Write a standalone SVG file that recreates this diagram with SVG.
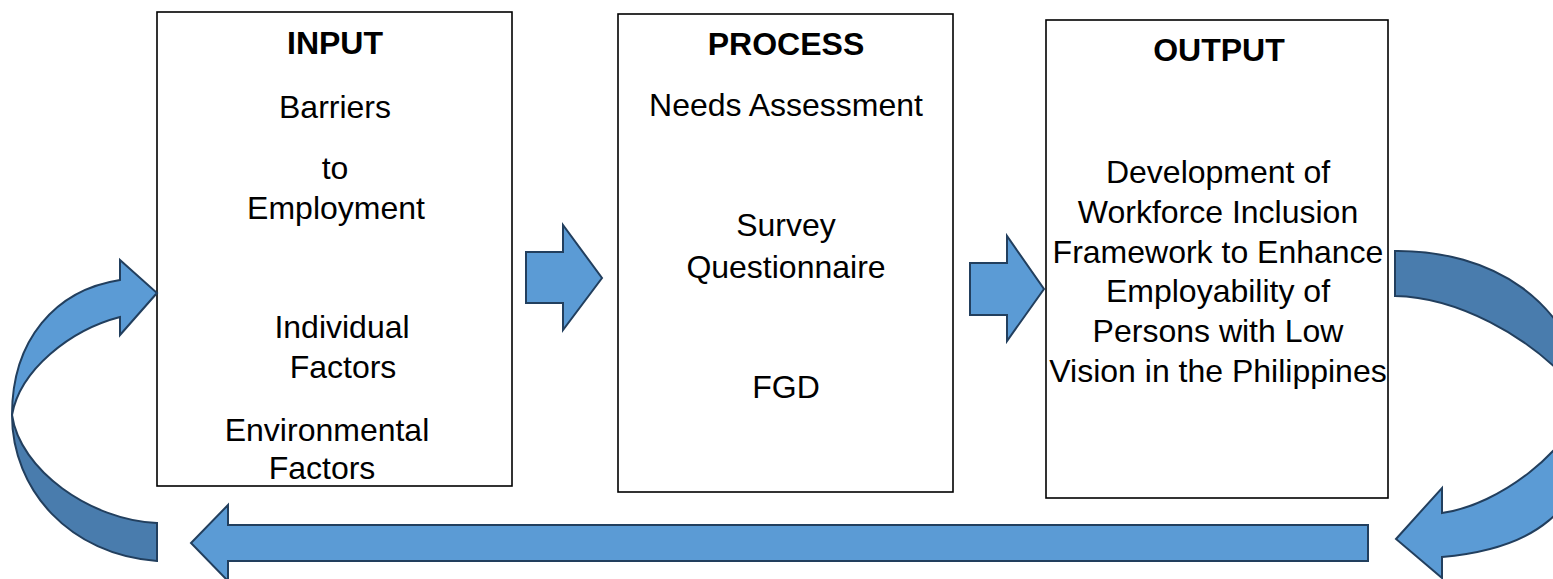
<svg xmlns="http://www.w3.org/2000/svg" width="1553" height="579" viewBox="0 0 1553 579">
  <style>
    .box { fill: #ffffff; stroke: #000000; stroke-width: 1.6; }
    .t { font-family: "Liberation Sans", Arial, sans-serif; font-size: 32px; fill: #000000; text-anchor: middle; }
    .h { font-weight: bold; }
    .arrow { fill: #5B9BD5; stroke: #223F5E; stroke-width: 2; stroke-linejoin: miter; }
    .shade { fill: #497CAD; stroke: #223F5E; stroke-width: 2; stroke-linejoin: miter; }
  </style>
  <rect width="1553" height="579" fill="#ffffff"/>

  <g id="input">
    <rect class="box" x="157" y="12" width="355" height="474"/>
    <text class="t h" x="335" y="54">INPUT</text>
    <text class="t" x="335" y="118">Barriers</text>
    <text class="t" x="335" y="179">to</text>
    <text class="t" x="336" y="219">Employment</text>
    <text class="t" x="342" y="338">Individual</text>
    <text class="t" x="343" y="378">Factors</text>
    <text class="t" x="327" y="441">Environmental</text>
    <text class="t" x="322" y="479">Factors</text>
  </g>

  <g id="process">
    <rect class="box" x="618" y="14" width="335" height="478"/>
    <text class="t h" x="786" y="55">PROCESS</text>
    <text class="t" x="786" y="116">Needs Assessment</text>
    <text class="t" x="786" y="236">Survey</text>
    <text class="t" x="786" y="278">Questionnaire</text>
    <text class="t" x="786" y="398">FGD</text>
  </g>

  <g id="output">
    <rect class="box" x="1046" y="20" width="342" height="478"/>
    <text class="t h" x="1219" y="61">OUTPUT</text>
    <text class="t" x="1218" y="183">Development of</text>
    <text class="t" x="1218" y="223">Workforce Inclusion</text>
    <text class="t" x="1218" y="263">Framework to Enhance</text>
    <text class="t" x="1218" y="302">Employability of</text>
    <text class="t" x="1218" y="342">Persons with Low</text>
    <text class="t" x="1218" y="382">Vision in the Philippines</text>
  </g>

  <g id="connectors">
    <!-- input to process -->
    <path class="arrow" d="M526,252 L563,252 L563,225 L602,278 L563,330 L563,303 L526,303 Z"/>
    <!-- process to output -->
    <path class="arrow" d="M970,263 L1007,263 L1007,236 L1044,289 L1007,341 L1007,315 L970,315 Z"/>
    <!-- feedback arrow along the bottom -->
    <path class="arrow" d="M1368,525 L228,525 L228,505 L191,543 L228,581 L228,561 L1368,561 Z"/>

    <!-- curved arrow leaving the output box (ribbon, back face then front face) -->
    <path class="shade" d="M1395,251 C1490,250 1575,300 1585,400 C1530,330 1450,297 1395,296 Z"/>
    <path class="arrow" d="M1585,400 C1570,450 1500,505 1442,513 L1442,488 L1396,539 L1442,578 L1442,557 C1520,550 1600,520 1585,400 Z"/>

    <!-- curved arrow returning into the input box -->
    <path class="shade" d="M12,415 C12,490 70,555 157,561 L157,523 C90,520 20,470 12,415 Z"/>
    <path class="arrow" d="M12,415 C12,340 55,290 120,280 L120,260 L157,293 L120,335 L120,317 C70,330 20,370 12,415 Z"/>
  </g>
</svg>
